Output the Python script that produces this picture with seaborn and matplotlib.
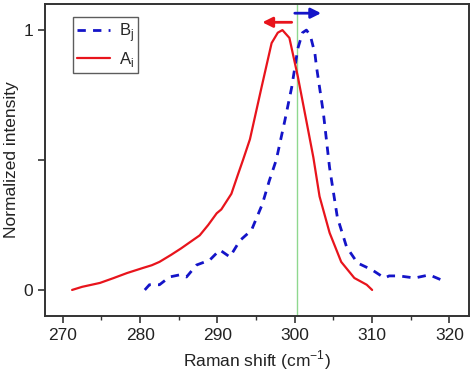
import matplotlib
matplotlib.use("Agg")
import matplotlib.pyplot as plt
import seaborn as sns
import pandas as pd
from matplotlib.ticker import MultipleLocator

# Data
a_x = [271.2, 272.5, 274.8, 276.5, 278.3, 280.4, 281.5, 282.5, 284.0, 285.3, 286.5,
       287.7, 288.8, 289.9, 290.5, 291.8, 292.6, 293.3, 294.2, 295.7, 297.0, 297.8,
       298.4, 299.3, 300.4, 301.5, 302.4, 303.2, 304.5, 306.0, 307.7, 309.3, 310.0]
a_y = [0.0, 0.012, 0.027, 0.045, 0.065, 0.085, 0.095, 0.108, 0.135, 0.16, 0.185,
       0.21, 0.25, 0.295, 0.31, 0.37, 0.44, 0.5, 0.58, 0.78, 0.95, 0.99,
       1.0, 0.97, 0.82, 0.65, 0.51, 0.36, 0.22, 0.108, 0.046, 0.02, 0.0]

b_x = [280.6, 281.2, 282.5, 283.8, 285.1, 286.0, 287.3, 289.0, 290.3, 291.6, 292.9,
       294.4, 295.8, 296.7, 297.6, 298.7, 299.6, 300.4, 301.0, 301.5, 302.0, 302.6,
       302.8, 303.7, 304.5, 305.5, 306.7, 308.1, 310.0, 311.6, 312.2, 313.5, 315.5,
       317.4, 319.0]
b_y = [0.0, 0.02, 0.02, 0.05, 0.058, 0.05, 0.096, 0.115, 0.154, 0.127, 0.19,
       0.23, 0.33, 0.42, 0.5, 0.65, 0.78, 0.93, 0.99, 1.0, 0.98, 0.91,
       0.86, 0.68, 0.47, 0.28, 0.165, 0.104, 0.077, 0.046, 0.054, 0.054, 0.046,
       0.058, 0.038]

ref_shift = 300.3
x_ticks = [270, 280, 290, 300, 310, 320]
y_ticks = [0, 0.5, 1]
y_tick_labels = ["0", "", "1"]

sns.set_style("ticks")
plt.rcParams["font.family"] = ["Liberation Sans", "DejaVu Sans"]

fig = plt.figure(figsize=(4.74, 3.73), dpi=100)
ax = fig.add_axes([0.095, 0.153, 0.894, 0.836])

df_a = pd.DataFrame({"x": a_x, "y": a_y})
df_b = pd.DataFrame({"x": b_x, "y": b_y})

sns.lineplot(data=df_b, x="x", y="y", sort=False, ax=ax, color="#1414c8",
             linewidth=2.0, linestyle=(0, (3.0, 2.6)), label="B$_\\mathregular{j}$")
sns.lineplot(data=df_a, x="x", y="y", sort=False, ax=ax, color="#e8141c",
             linewidth=1.6, label="A$_\\mathregular{i}$")

ax.axvline(ref_shift, color="#8fd88f", linewidth=1.0, zorder=0)

# arrows
ax.annotate("", xy=(295.8, 1.03), xytext=(299.6, 1.03),
            arrowprops=dict(arrowstyle="-|>", color="#e8141c", lw=2.0,
                            mutation_scale=15, shrinkA=0, shrinkB=0))
ax.annotate("", xy=(303.4, 1.065), xytext=(300.0, 1.065),
            arrowprops=dict(arrowstyle="-|>", color="#1414c8", lw=2.0,
                            mutation_scale=15, shrinkA=0, shrinkB=0))

ax.set_xlim(267.7, 322.5)
ax.set_ylim(-0.1, 1.1)
ax.set_xticks(x_ticks)
ax.xaxis.set_minor_locator(MultipleLocator(5))
ax.set_yticks(y_ticks)
ax.set_yticklabels(y_tick_labels)

ax.set_xlabel("Raman shift (cm$^{\\mathregular{-1}}$)", fontsize=12.5, color="#222222")
ax.set_ylabel("Normalized intensity", fontsize=12.5, color="#222222", labelpad=3)

for s in ax.spines.values():
    s.set_linewidth(1.4)
    s.set_color("#333333")
ax.tick_params(axis="both", which="major", length=5, width=1.2, color="#333333",
               labelsize=12.5, labelcolor="#222222")
ax.tick_params(axis="both", which="minor", length=3, width=1.0, color="#333333")

leg = ax.legend(loc="upper left", bbox_to_anchor=(0.066, 0.958), fontsize=12,
                frameon=True, fancybox=False, edgecolor="#333333",
                handlelength=2.0, handletextpad=0.5, borderpad=0.25,
                labelspacing=0.35, borderaxespad=0.0)
leg.get_frame().set_linewidth(1.0)

fig.savefig("out.png", dpi=100)
